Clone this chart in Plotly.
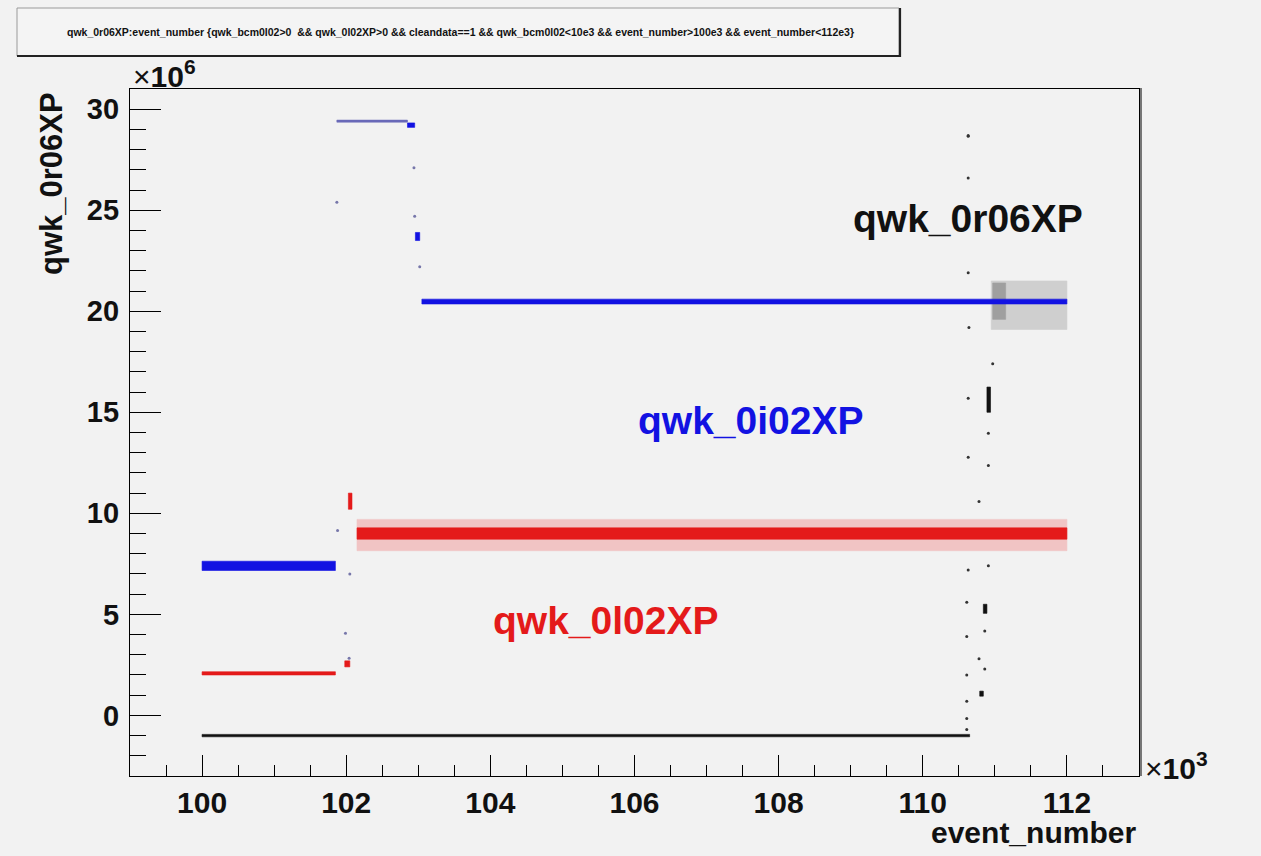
import plotly.graph_objects as go

# ---------------- data (x in units of 10^3 events, y in units of 10^6) ----------------
# Bands: each segment = start, end, low, high
blue_x0 = [100.00, 101.87, 102.85, 102.96, 103.05]
blue_x1 = [101.85, 102.85, 102.95, 103.02, 112.00]
blue_lo = [7.17, 29.36, 29.10, 23.50, 20.36]
blue_hi = [7.63, 29.46, 29.32, 23.90, 20.60]

red_x0 = [100.00, 101.98, 102.03, 102.15]
red_x1 = [101.85, 102.05, 102.08, 112.00]
red_lo = [2.00, 2.40, 10.20, 8.72]
red_hi = [2.16, 2.70, 11.00, 9.28]
# diffuse outer halo of the main red band
red_halo_x0 = [102.15]
red_halo_x1 = [112.00]
red_halo_lo = [8.15]
red_halo_hi = [9.70]

black_x0 = [100.00, 110.79, 110.84, 110.89]
black_x1 = [110.65, 110.84, 110.89, 110.94]
black_lo = [-1.06, 0.95, 5.05, 15.00]
black_hi = [-0.94, 1.20, 5.50, 16.25]
# diffuse black cloud at the end of the run (denser start, wider tail)
black_cloud_x0 = [110.95, 110.97]
black_cloud_x1 = [112.00, 111.15]
black_cloud_lo = [19.10, 19.60]
black_cloud_hi = [21.50, 21.40]

# isolated points
blue_pts_x = [102.94, 101.87, 102.95, 103.02, 101.88, 102.05, 101.99, 102.04]
blue_pts_y = [27.1, 25.4, 24.7, 22.2, 9.15, 7.0, 4.07, 2.83]

black_pts_x = [110.63, 110.63, 110.63, 110.63, 110.97, 110.63, 110.91, 110.63, 110.91,
               110.78, 110.91, 110.63, 110.61, 110.86, 110.61, 110.78, 110.86, 110.61,
               110.61, 110.61, 110.61, 110.64]
black_pts_y = [28.66, 28.7, 26.6, 21.9, 17.4, 15.7, 13.96, 12.77, 12.37,
               10.58, 7.4, 7.2, 5.6, 4.17, 3.9, 2.8, 2.3, 2.0,
               0.7, -0.15, -0.7, 19.2]

x_ticks = [100, 102, 104, 106, 108, 110, 112]
y_ticks = [0, 5, 10, 15, 20, 25, 30]

# ---------------- styling ----------------
BG = "#f2f2f2"
BLUE = "#1212e2"
RED = "#e41a1a"
BLACK = "#111111"
FONT = "Liberation Sans"

W, H = 1261, 856
L, R, T, B = 130, 1139, 89, 776


def px(xp):
    return (xp - L) / (R - L)


def py(yp):
    return (B - yp) / (B - T)


fig = go.Figure()


def add_bands(x0s, x1s, los, his, color, opacity=1.0):
    for x0, x1, lo, hi in zip(x0s, x1s, los, his):
        fig.add_trace(go.Scatter(
            x=[x0, x1, x1, x0, x0], y=[lo, lo, hi, hi, lo],
            mode="lines", fill="toself", fillcolor=color,
            line=dict(color=color, width=0.6), opacity=opacity,
            hoverinfo="skip", showlegend=False))


add_bands(black_cloud_x0[:1], black_cloud_x1[:1], black_cloud_lo[:1], black_cloud_hi[:1], "#555555", 0.22)
add_bands(black_cloud_x0[1:], black_cloud_x1[1:], black_cloud_lo[1:], black_cloud_hi[1:], "#333333", 0.3)
add_bands(black_x0, black_x1, black_lo, black_hi, BLACK)
add_bands(red_halo_x0, red_halo_x1, red_halo_lo, red_halo_hi, "#f07070", 0.35)
add_bands(red_x0, red_x1, red_lo, red_hi, RED)
add_bands(blue_x0[:1], blue_x1[:1], blue_lo[:1], blue_hi[:1], BLUE)
add_bands(blue_x0[1:2], blue_x1[1:2], blue_lo[1:2], blue_hi[1:2], "#6a6ab8")
add_bands(blue_x0[2:], blue_x1[2:], blue_lo[2:], blue_hi[2:], BLUE)

fig.add_trace(go.Scatter(x=blue_pts_x, y=blue_pts_y, mode="markers",
                         marker=dict(color="#7777aa", size=3), hoverinfo="skip",
                         showlegend=False))
fig.add_trace(go.Scatter(x=black_pts_x, y=black_pts_y, mode="markers",
                         marker=dict(color="#333333", size=3), hoverinfo="skip",
                         showlegend=False))

fig.update_layout(
    width=W, height=H,
    margin=dict(l=L, r=W - R, t=T, b=H - B),
    paper_bgcolor=BG, plot_bgcolor=BG,
    showlegend=False,
    font=dict(family=FONT, color=BLACK),
    xaxis=dict(
        range=[99.0, 113.0], tickvals=x_ticks, ticktext=[str(v) for v in x_ticks],
        showgrid=False, zeroline=False, showline=True, mirror=True,
        linecolor="black", linewidth=1.2,
        ticks="inside", ticklen=21, tickwidth=1, tickcolor="black",
        minor=dict(ticks="inside", ticklen=11, dtick=0.5, tick0=100, tickcolor="black", showgrid=False),
        tickfont=dict(family=FONT, size=30, weight="bold", color=BLACK),
        ticklabelstandoff=0,
    ),
    yaxis=dict(
        range=[-3.0, 31.0], tickvals=y_ticks, ticktext=[str(v) for v in y_ticks],
        showgrid=False, zeroline=False, showline=True, mirror=True,
        linecolor="black", linewidth=1.2,
        ticks="inside", ticklen=31, tickwidth=1, tickcolor="black",
        minor=dict(ticks="inside", ticklen=16, dtick=1, tick0=0, tickcolor="black", showgrid=False),
        tickfont=dict(family=FONT, size=29, weight="bold", color=BLACK),
        ticklabelstandoff=4,
    ),
)

shapes = []
# frame shadow on right
shapes.append(dict(type="line", xref="paper", yref="paper",
                   x0=px(1141), x1=px(1141), y0=py(776), y1=py(88),
                   line=dict(color="#777777", width=2)))
# title box
shapes.append(dict(type="rect", xref="paper", yref="paper",
                   x0=px(17), x1=px(899), y0=py(56), y1=py(8),
                   fillcolor="#f4f4f4", line=dict(color="#9a9a9a", width=1), layer="above"))
shapes.append(dict(type="line", xref="paper", yref="paper",
                   x0=px(17), x1=px(900), y0=py(56), y1=py(56),
                   line=dict(color="#222222", width=2.2)))
shapes.append(dict(type="line", xref="paper", yref="paper",
                   x0=px(900), x1=px(900), y0=py(8), y1=py(57),
                   line=dict(color="#222222", width=2.2)))
fig.update_layout(shapes=shapes)

title_txt = ("qwk_0r06XP:event_number {qwk_bcm0l02&gt;0 &nbsp;&amp;&amp; qwk_0l02XP&gt;0 &amp;&amp; "
             "cleandata==1 &amp;&amp; qwk_bcm0l02&lt;10e3 &amp;&amp; event_number&gt;100e3 &amp;&amp; "
             "event_number&lt;112e3}")

ann = []
ann.append(dict(text=title_txt, xref="paper", yref="paper", x=px(460), y=py(32),
                xanchor="center", yanchor="middle", showarrow=False,
                font=dict(family=FONT, size=10.5, weight="bold", color=BLACK)))
ann.append(dict(text="qwk_0r06XP", xref="paper", yref="paper", x=px(968), y=py(218),
                xanchor="center", yanchor="middle", showarrow=False,
                font=dict(family=FONT, size=39, weight="bold", color=BLACK)))
ann.append(dict(text="qwk_0i02XP", xref="paper", yref="paper", x=px(750), y=py(420),
                xanchor="center", yanchor="middle", showarrow=False,
                font=dict(family=FONT, size=39, weight="bold", color=BLUE)))
ann.append(dict(text="qwk_0l02XP", xref="paper", yref="paper", x=px(605), y=py(620),
                xanchor="center", yanchor="middle", showarrow=False,
                font=dict(family=FONT, size=39, weight="bold", color=RED)))
# axis titles
ann.append(dict(text="event_number", xref="paper", yref="paper", x=px(1138), y=py(832),
                xanchor="right", yanchor="middle", showarrow=False,
                font=dict(family=FONT, size=30, weight="bold", color=BLACK)))
ann.append(dict(text="qwk_0r06XP", xref="paper", yref="paper", x=px(52), y=py(184),
                xanchor="center", yanchor="middle", showarrow=False, textangle=-90,
                font=dict(family=FONT, size=31, weight="bold", color=BLACK)))
# exponent labels
ann.append(dict(text="<span style='font-weight:normal'>×</span>10<sup>6</sup>",
                xref="paper", yref="paper", x=px(131), y=py(74),
                xanchor="left", yanchor="middle", showarrow=False,
                font=dict(family=FONT, size=30, weight="bold", color=BLACK)))
ann.append(dict(text="<span style='font-weight:normal'>×</span>10<sup>3</sup>",
                xref="paper", yref="paper", x=px(1143), y=py(766),
                xanchor="left", yanchor="middle", showarrow=False,
                font=dict(family=FONT, size=30, weight="bold", color=BLACK)))
fig.update_layout(annotations=ann)

fig.write_html("out.html")
